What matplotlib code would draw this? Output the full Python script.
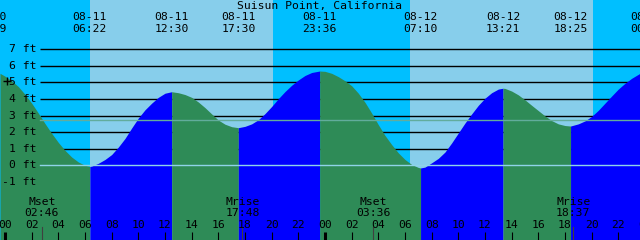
import matplotlib
matplotlib.use("Agg")
import matplotlib.pyplot as plt
import numpy as np

# ---------------- data ----------------
title = "Suisun Point, California"

# tide curve samples: hours since 08-11 00:00, height in ft
tide_hours = [-0.375, 0, 0.5, 1, 1.5, 2, 2.5, 3, 3.5, 4, 4.5, 5, 5.5, 6, 6.367,
              6.5, 7, 7.5, 8, 8.5, 9, 9.5, 10, 10.5, 11, 11.5, 12, 12.5,
              13, 13.5, 14, 14.5, 15, 15.5, 16, 16.5, 17, 17.5,
              18, 18.5, 19, 19.5, 20, 20.5, 21, 21.5, 22, 22.5, 23, 23.6,
              24, 24.5, 25, 25.5, 26, 26.5, 27, 27.5, 28, 28.5, 29, 29.5, 30, 30.5, 31, 31.167,
              31.5, 32, 32.5, 33, 33.5, 34, 34.5, 35, 35.5, 36, 36.5, 37, 37.35,
              37.5, 38, 38.5, 39, 39.5, 40, 40.5, 41, 41.5, 42, 42.417,
              43, 43.5, 44, 44.5, 45, 45.5, 46, 46.5, 47, 47.625]
tide_ft = [5.55, 5.38, 5.10, 4.75, 4.28, 3.75, 3.15, 2.52, 1.93, 1.38, 0.90, 0.50, 0.20, 0.00, -0.07,
           -0.05, 0.12, 0.35, 0.65, 1.10, 1.62, 2.25, 2.85, 3.35, 3.75, 4.10, 4.35, 4.44,
           4.38, 4.27, 4.10, 3.82, 3.48, 3.10, 2.73, 2.48, 2.33, 2.27,
           2.35, 2.50, 2.75, 3.12, 3.55, 4.02, 4.45, 4.83, 5.15, 5.42, 5.60, 5.69,
           5.67, 5.55, 5.35, 5.10, 4.80, 4.35, 3.80, 3.15, 2.45, 1.80, 1.25, 0.75, 0.35, 0.05, -0.13, -0.16,
           -0.11, 0.15, 0.42, 0.80, 1.35, 1.95, 2.55, 3.10, 3.62, 4.05, 4.38, 4.60, 4.65,
           4.64, 4.48, 4.25, 3.95, 3.62, 3.30, 2.98, 2.70, 2.50, 2.40, 2.37,
           2.50, 2.68, 2.95, 3.32, 3.75, 4.18, 4.60, 4.95, 5.25, 5.55]

# tide event labels (top)
event_dates = ["08-10", "08-11", "08-11", "08-11", "08-11", "08-12", "08-12", "08-12", "08-13"]
event_times = ["22:49", "06:22", "12:30", "17:30", "23:36", "07:10", "13:21", "18:25", "00:12"]
event_day = [-1, 0, 0, 0, 0, 1, 1, 1, 2]

# sun: rise / set in hours since 08-11 00:00
sunrise_h = [6.375, 30.38]
sunset_h = [20.1, 44.1]

# moon events (bottom)
moon_names = ["Mset", "Mrise", "Mset", "Mrise"]
moon_times = ["02:46", "17:48", "03:36", "18:37"]
moon_day = [0, 0, 1, 1]

ft_levels = [7, 6, 5, 4, 3, 2, 1, 0, -1]
msl_ft = 2.72
hour_labels = ["00", "02", "04", "06", "08", "10", "12", "14", "16", "18", "20", "22"]

# ---------------- layout helpers ----------------
PX_PER_H = 13.333
X0 = 5.0            # pixel of 08-11 00:00
Y0 = 165.3          # pixel of 0 ft
PX_PER_FT = 16.57
W, H = 640, 240

def yft(ypix):
    return (Y0 - ypix) / PX_PER_FT

def hx(xpix):
    return (xpix - X0) / PX_PER_H

def tohours(t, day):
    hh, mm = t.split(":")
    return day * 24 + int(hh) + int(mm) / 60.0

NIGHT = "#00BFFF"
DAY = "#87CEEB"
RISE = "#0000FF"
FALL = "#2E8B57"
FONT = dict(family="DejaVu Sans Mono", fontsize=8.2, color="black")

fig = plt.figure(figsize=(6.4, 2.4), dpi=100)
ax = fig.add_axes([0, 0, 1, 1])
ax.set_xlim(hx(0), hx(W))
ax.set_ylim(yft(H), yft(0))
ax.axis("off")

# background day/night
ax.axvspan(hx(0), hx(W), color=NIGHT, zorder=0, lw=0)
for r, s in zip(sunrise_h, sunset_h):
    ax.axvspan(r, s, color=DAY, zorder=0.5, lw=0)

# black level lines (behind water)
x_line_start = hx(40)
for lv in ft_levels:
    if lv in (0, -1):
        continue
    ax.plot([x_line_start, hx(W)], [lv, lv], color="black", lw=1.0, zorder=1,
            solid_capstyle="butt")

# water fill, split at extremes
th = np.array(tide_hours)
tf = np.array(tide_ft)
bottom = yft(H + 2)
start = 0
n = len(th)
while start < n - 1:
    rising = tf[start + 1] > tf[start]
    end = start + 1
    while end < n - 1 and ((tf[end + 1] > tf[end]) == rising):
        end += 1
    seg_x = th[start:end + 1]
    seg_y = tf[start:end + 1]
    ax.fill_between(seg_x, seg_y, bottom, color=RISE if rising else FALL,
                    lw=0, zorder=2, antialiased=True)
    start = end

# datum and MSL lines over water
ax.plot([x_line_start, hx(W)], [0, 0], color="#8FD3E8", lw=1.0, zorder=3)
ax.plot([x_line_start, hx(W)], [msl_ft, msl_ft], color="#62AC9C", lw=1.0, zorder=3)

# y labels
for lv in ft_levels:
    ax.text(hx(36.5), lv, f"{lv} ft", ha="right", va="center", zorder=5, **FONT)

# "+" marker
ax.plot([hx(7)], [yft(81)], marker="+", ms=6, mew=1.0, color="black", zorder=5)

# title
ax.text(hx(320), yft(5.5), title, ha="center", va="center", zorder=5, **FONT)

# top event labels
for d, t, dd in zip(event_dates, event_times, event_day):
    h = tohours(t, dd)
    ax.text(h, yft(17), d, ha="center", va="center", zorder=5, **FONT)
    ax.text(h, yft(29.5), t, ha="center", va="center", zorder=5, **FONT)

# moon labels and marks
for nm, t, dd in zip(moon_names, moon_times, moon_day):
    h = tohours(t, dd)
    ax.plot([h, h], [yft(227), yft(H)], color="#404040", lw=0.8, zorder=4)
    ax.text(h, yft(202), nm, ha="center", va="center", zorder=5, **FONT)
    ax.text(h, yft(213.5), t, ha="center", va="center", zorder=5, **FONT)

# hour labels and ticks
for day in range(3):
    for i, lab in enumerate(hour_labels):
        h = day * 24 + 2 * i
        if h > hx(W) + 1:
            continue
        ax.text(h, yft(225), lab, ha="center", va="center", zorder=5, **FONT)
        if i == 0:
            ax.plot([h, h], [yft(231.5), yft(H)], color="black", lw=2.2, zorder=4,
                    solid_capstyle="butt")
        else:
            ax.plot([h, h], [yft(232), yft(H)], color="black", lw=0.8, zorder=4,
                    solid_capstyle="butt")

fig.savefig("out.png", dpi=100)
